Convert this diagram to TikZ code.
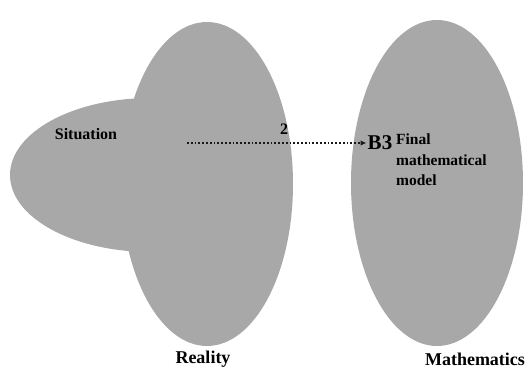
\documentclass[tikz,border=0pt]{standalone}
\usepackage{fontspec}
\setmainfont{Liberation Serif}
\usetikzlibrary{arrows.meta,shapes.geometric}

\begin{document}
\begin{tikzpicture}[
  x=1pt, y=-1pt,
  blob/.style={ellipse, fill=black!34, draw=none, inner sep=0pt},
  lbl/.style={font=\bfseries\fontsize{16}{18}\selectfont, align=left, inner sep=1pt},
  arrow/.style={-{Latex[length=6pt,width=5.5pt]}, line width=1.8pt, dotted, draw=black!90}
]
\useasboundingbox (0,0) rectangle (531,369);

\node[blob, minimum width=282pt, minimum height=154pt] (situation) at (151,175) {};
\node[blob, minimum width=172pt, minimum height=324pt] (reality) at (207,184) {};
\node[blob, minimum width=172pt, minimum height=326pt] (maths) at (437,183) {};

\node[lbl] (sitlabel) at (86,134) {Situation};
\node[lbl, font=\bfseries\fontsize{21}{22}\selectfont] (b3) at (380,143) {B3};
\node[lbl, anchor=north west, font=\bfseries\fontsize{15.5}{20.5}\selectfont] (model) at (395,133)
  {Final\\mathematical\\model};

\coordinate (start) at (187,143);
\draw[arrow] (start) -- (b3.west);
\node[lbl] (two) at (284,129) {2};

\node[lbl, font=\bfseries\fontsize{18}{20}\selectfont] (reallabel) at (203,359) {Reality};
\node[lbl, font=\bfseries\fontsize{18}{20}\selectfont] (mathlabel) at (475,359) {Mathematics};
\end{tikzpicture}
\end{document}
